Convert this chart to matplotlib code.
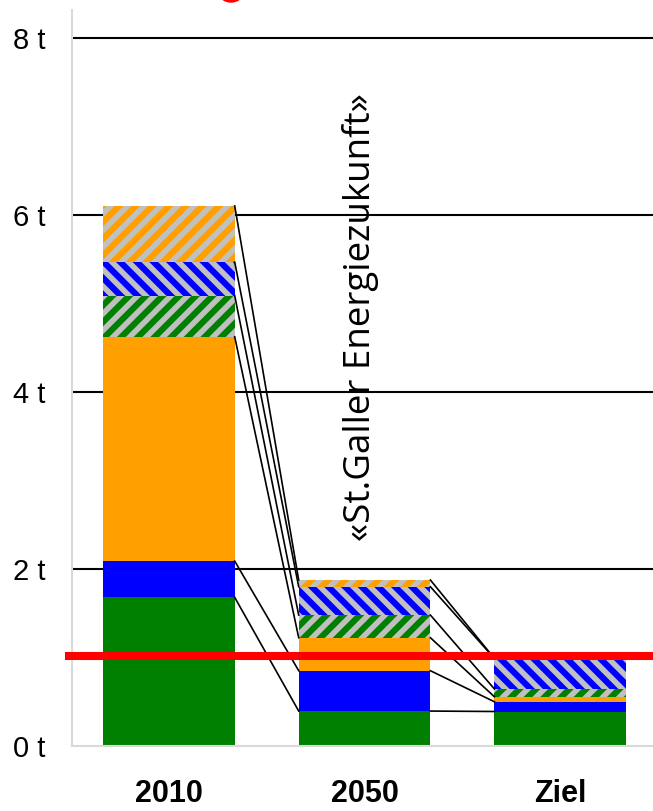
import matplotlib.pyplot as plt
from matplotlib.patches import Ellipse

plt.rcParams['font.family'] = ['Liberation Sans Narrow', 'Liberation Sans', 'DejaVu Sans']
plt.rcParams['hatch.linewidth'] = 4.0

# values in t per person, stacked from bottom to top
categories = ['2010', '2050', 'Ziel']
green = [1.68, 0.395, 0.39]
blue = [0.41, 0.456, 0.11]
orange = [2.535, 0.373, 0.057]
green_h = [0.465, 0.256, 0.088]
blue_h = [0.38, 0.32, 0.345]
orange_h = [0.635, 0.076, 0.0]
target = 1.02
y_ticks = [0, 2, 4, 6, 8]
y_labels = ['0 t', '2 t', '4 t', '6 t', '8 t']
note = '«St.Galler Energiezukunft»'

GREEN = '#008000'
BLUE = '#0000ff'
ORANGE = '#ff9f00'
GRAY = '#c0c0c0'

segments = [(green, GREEN, None), (blue, BLUE, None), (orange, ORANGE, None),
            (green_h, GREEN, '//'), (blue_h, BLUE, '\\\\'), (orange_h, ORANGE, '//')]

fig = plt.figure(figsize=(6.53, 8.11), dpi=100)
ax = fig.add_axes([72 / 653, 65 / 811, 581 / 653, 736 / 811])

x = list(range(len(categories)))
w = 0.673
bottoms = [0.0] * len(x)
tops = []
for vals, col, hatch in segments:
    if hatch:
        ax.bar(x, vals, w, bottom=bottoms, color=col, edgecolor=GRAY,
               linewidth=0, hatch=hatch, zorder=2)
    else:
        ax.bar(x, vals, w, bottom=bottoms, color=col, linewidth=0, zorder=2)
    bottoms = [b + v for b, v in zip(bottoms, vals)]
    tops.append(list(bottoms))

# connection lines between segment tops
for i in range(len(x) - 1):
    for t in tops:
        ax.plot([x[i] + w / 2, x[i + 1] - w / 2], [t[i], t[i + 1]],
                color='black', lw=1.2, zorder=3)

for y in y_ticks[1:]:
    ax.axhline(y, color='black', lw=1.5, zorder=0.5)

ax.plot([-0.53, 2.48], [target, target], color='#ff0000', lw=5.8,
        solid_capstyle='butt', clip_on=False, zorder=4)

ax.text(0.98, 4.85, note, rotation=90, ha='center', va='center',
        fontsize=26.5, family=['Open Sans', 'DejaVu Sans'], zorder=5)

ax.set_xlim(-0.495, 2.474)
ax.set_ylim(0, 8.32)
ax.set_yticks(y_ticks)
ax.set_yticklabels(y_labels, fontsize=21)
ax.set_xticks(x)
ax.set_xticklabels(categories, fontsize=22, fontweight='bold')
ax.tick_params(axis='y', length=0, pad=19)
ax.tick_params(axis='x', length=0, pad=24)
for s in ['top', 'right']:
    ax.spines[s].set_visible(False)
for s in ['left', 'bottom']:
    ax.spines[s].set_color('#d9d9d9')
    ax.spines[s].set_linewidth(1.5)

fig.patches.append(Ellipse((231 / 653, 1 + 6 / 811), 22 / 653, 16 / 811,
                           transform=fig.transFigure, color='#ff0000'))

fig.savefig('out.png', dpi=100)
